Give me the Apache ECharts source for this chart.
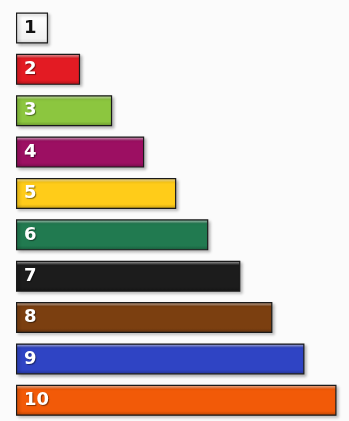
<!DOCTYPE html>
<html>
<head>
<meta charset="utf-8">
<script src="https://cdn.jsdelivr.net/npm/echarts@6/dist/echarts.min.js"></script>
<style>
html,body{margin:0;padding:0;background:#fbfbfb;}
#c{width:349px;height:421px;}
</style>
</head>
<body>
<div id="c"></div>
<script>
const categories = ['1','2','3','4','5','6','7','8','9','10'];
const values = [1,2,3,4,5,6,7,8,9,10];
const palette = ['#ffffff','#e31b23','#8cc63f','#9c0f62','#ffcc19','#217a50','#1c1c1c','#7b3f10','#2f44c4','#f25a08'];
const labelColors = ['#111111','#ffffff','#ffffff','#ffffff','#ffffff','#ffffff','#ffffff','#ffffff','#ffffff','#ffffff'];

function shade(hex, f){
  const n = parseInt(hex.slice(1),16);
  let r=(n>>16)&255,g=(n>>8)&255,b=n&255;
  if(f>0){r=r+(255-r)*f;g=g+(255-g)*f;b=b+(255-b)*f;}
  else{r=r*(1+f);g=g*(1+f);b=b*(1+f);}
  return 'rgb('+Math.round(r)+','+Math.round(g)+','+Math.round(b)+')';
}

const data = values.map((v,i)=>({
  value: v,
  itemStyle: {
    color: {
      type:'linear', x:0,y:0,x2:0,y2:1,
      colorStops:[
        {offset:0, color: shade(palette[i],0.15)},
        {offset:0.06, color: shade(palette[i],0.45)},
        {offset:0.14, color: palette[i]},
        {offset:0.85, color: i===0 ? '#f2f2f2' : palette[i]},
        {offset:1, color: i===0 ? '#d8d8d8' : shade(palette[i],-0.25)}
      ]
    }
  },
  label: {
    color: labelColors[i],
    textShadowColor: i===0 ? 'rgba(0,0,0,0)' : 'rgba(0,0,0,0.45)'
  }
}));

const chart = echarts.init(document.getElementById('c'));
chart.setOption({
  backgroundColor:'#fbfbfb',
  animation:false,
  grid:{left:16, top:7.3, width:320.5, height:414},
  xAxis:{type:'value', min:0, max:10, show:false},
  yAxis:{type:'category', data:categories, inverse:true, show:false},
  series:[{
    type:'bar',
    data:data,
    barWidth:31,
    itemStyle:{
      borderColor:'#1a1a1a', borderWidth:1.2,
      shadowColor:'rgba(0,0,0,0.28)', shadowBlur:3, shadowOffsetX:2, shadowOffsetY:2
    },
    label:{
      show:true, position:'insideLeft', distance:8,
      formatter:'{b}',
      fontFamily:'DejaVu Sans', fontWeight:'bold', fontSize:18,
      textShadowBlur:1, textShadowOffsetX:1, textShadowOffsetY:1
    }
  }]
});
</script>
</body>
</html>
